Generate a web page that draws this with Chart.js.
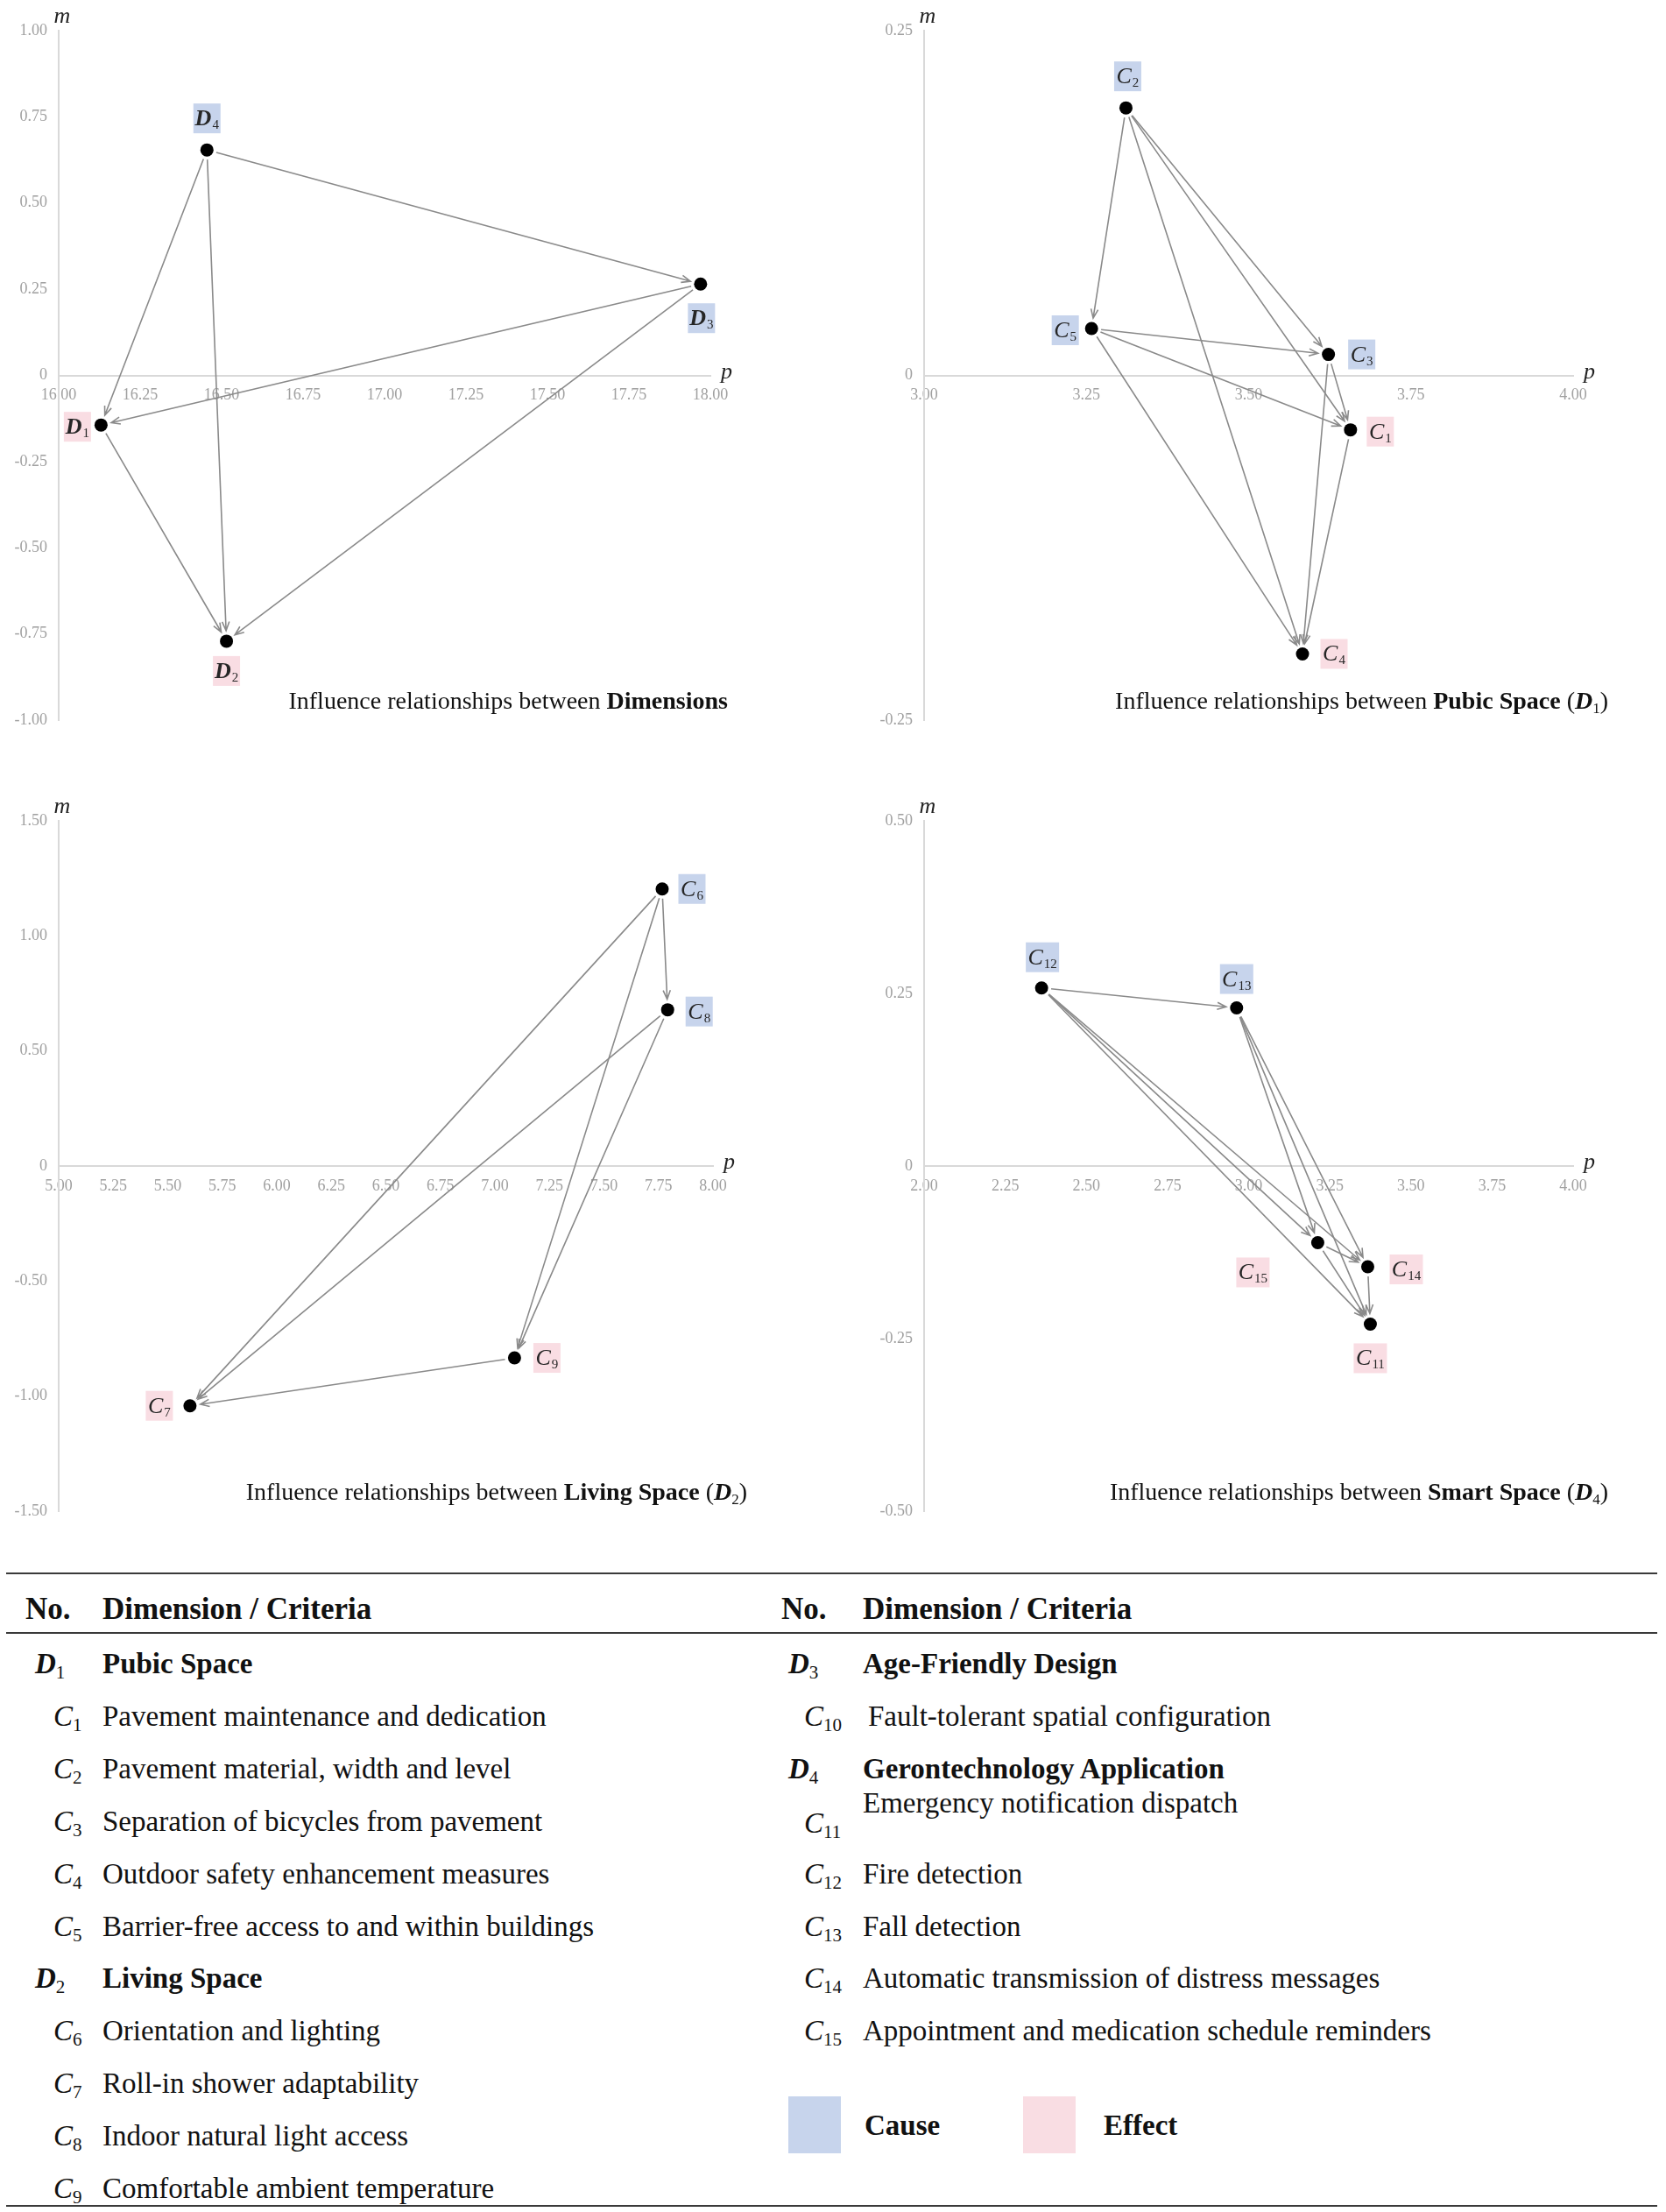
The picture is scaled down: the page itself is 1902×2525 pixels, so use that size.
<!DOCTYPE html>
<html>
<head>
<meta charset="utf-8">
<script src="https://cdn.jsdelivr.net/npm/chart.js@4.4.1/dist/chart.umd.min.js"></script>
<style>
  body { margin: 0; background: #fff; }
  #page { position: relative; width: 1902px; height: 2525px; font-family: "Liberation Serif", "Times New Roman", serif; color: #111; overflow: hidden; }
  canvas { position: absolute; }
  .rule { position: absolute; left: 7px; width: 1885px; height: 2px; background: #3a3a3a; }
  .cell { position: absolute; height: 40px; line-height: 40px; font-size: 33px; white-space: nowrap; }
  .hd { font-weight: bold; font-size: 35px; }
  .cell sub { font-size: 21px; font-style: normal; font-weight: normal; vertical-align: -6px; line-height: 0; }
  .swatch { position: absolute; width: 60px; height: 65px; }
</style>
</head>
<body>
<div id="page">
  <canvas id="chDim" width="951" height="880" style="left:0;top:0"></canvas>
  <canvas id="chD1" width="951" height="880" style="left:951px;top:0"></canvas>
  <canvas id="chD2" width="951" height="860" style="left:0;top:900px"></canvas>
  <canvas id="chD4" width="951" height="860" style="left:951px;top:900px"></canvas>

  <div class="rule" style="top:1795px"></div>
  <div class="rule" style="top:1863px"></div>
  <div class="rule" style="top:2517px"></div>
  <div class="cell hd" style="left:29px;top:1817px">No.</div>
  <div class="cell hd" style="left:117px;top:1817px">Dimension / Criteria</div>
  <div class="cell hd" style="left:892px;top:1817px">No.</div>
  <div class="cell hd" style="left:985px;top:1817px">Dimension / Criteria</div>
  <div id="rows"></div>

  <div class="swatch" style="left:900px;top:2393px;background:#c7d4ec"></div>
  <div class="cell" style="left:987px;top:2406px;font-weight:bold">Cause</div>
  <div class="swatch" style="left:1168px;top:2393px;background:#f9dde3"></div>
  <div class="cell" style="left:1260px;top:2406px;font-weight:bold">Effect</div>
</div>

<script>
"use strict";

// Dimensions
const dimCodes = ['D1', 'D2', 'D3', 'D4'];
const dimP = [16.13, 16.515, 17.97, 16.455];
const dimM = [-0.144, -0.771, 0.265, 0.654];
const dimRoles = ['effect', 'effect', 'cause', 'cause'];
const dimLinks = [['D4', 'D3'], ['D4', 'D1'], ['D4', 'D2'], ['D3', 'D1'], ['D3', 'D2'], ['D1', 'D2']];
const dimXTicks = [16, 16.25, 16.5, 16.75, 17, 17.25, 17.5, 17.75, 18];
const dimYTicks = [-1, -0.75, -0.5, -0.25, 0, 0.25, 0.5, 0.75, 1];

// Pubic Space (D1)
const d1Codes = ['C1', 'C2', 'C3', 'C4', 'C5'];
const d1P = [3.657, 3.311, 3.623, 3.583, 3.258];
const d1M = [-0.0395, 0.194, 0.0152, -0.202, 0.034];
const d1Roles = ['effect', 'cause', 'cause', 'effect', 'cause'];
const d1Links = [['C2', 'C5'], ['C2', 'C3'], ['C2', 'C1'], ['C2', 'C4'], ['C5', 'C3'], ['C5', 'C1'], ['C5', 'C4'], ['C3', 'C1'], ['C3', 'C4'], ['C1', 'C4']];
const d1XTicks = [3, 3.25, 3.5, 3.75, 4];
const d1YTicks = [-0.25, 0, 0.25];

// Living Space (D2)
const d2Codes = ['C6', 'C7', 'C8', 'C9'];
const d2P = [7.767, 5.602, 7.792, 7.09];
const d2M = [1.204, -1.042, 0.679, -0.834];
const d2Roles = ['cause', 'effect', 'cause', 'effect'];
const d2Links = [['C6', 'C8'], ['C6', 'C7'], ['C6', 'C9'], ['C8', 'C7'], ['C8', 'C9'], ['C9', 'C7']];
const d2XTicks = [5, 5.25, 5.5, 5.75, 6, 6.25, 6.5, 6.75, 7, 7.25, 7.5, 7.75, 8];
const d2YTicks = [-1.5, -1, -0.5, 0, 0.5, 1, 1.5];

// Smart Space (D4)
const d4Codes = ['C11', 'C12', 'C13', 'C14', 'C15'];
const d4P = [3.375, 2.362, 2.963, 3.367, 3.213];
const d4M = [-0.229, 0.258, 0.229, -0.146, -0.111];
const d4Roles = ['effect', 'cause', 'cause', 'effect', 'effect'];
const d4Links = [['C12', 'C13'], ['C12', 'C15'], ['C12', 'C14'], ['C12', 'C11'], ['C13', 'C15'], ['C13', 'C14'], ['C13', 'C11'], ['C15', 'C14'], ['C15', 'C11'], ['C14', 'C11']];
const d4XTicks = [2, 2.25, 2.5, 2.75, 3, 3.25, 3.5, 3.75, 4];
const d4YTicks = [-0.5, -0.25, 0, 0.25, 0.5];

// table
const leftRows = [
    ['D1', 'Pubic Space'],
    ['C1', 'Pavement maintenance and dedication'],
    ['C2', 'Pavement material, width and level'],
    ['C3', 'Separation of bicycles from pavement'],
    ['C4', 'Outdoor safety enhancement measures'],
    ['C5', 'Barrier-free access to and within buildings'],
    ['D2', 'Living Space'],
    ['C6', 'Orientation and lighting'],
    ['C7', 'Roll-in shower adaptability'],
    ['C8', 'Indoor natural light access'],
    ['C9', 'Comfortable ambient temperature']
];
const rightRows = [
    ['D3', 'Age-Friendly Design'],
    ['C10', 'Fault-tolerant spatial configuration'],
    ['D4', 'Gerontechnology Application'],
    ['C11', 'Emergency notification dispatch'],
    ['C12', 'Fire detection'],
    ['C13', 'Fall detection'],
    ['C14', 'Automatic transmission of distress messages'],
    ['C15', 'Appointment and medication schedule reminders']
];

const SERIF = '"Liberation Serif", "Times New Roman", serif';
const CAUSE_BG = '#c7d4ec';
const EFFECT_BG = '#f9dde3';

function arrow(ctx, x1, y1, x2, y2){
    const dx = x2 - x1, dy = y2 - y1, L = Math.hypot(dx, dy);
    const ux = dx / L, uy = dy / L;
    const sx = x1 + ux * 11, sy = y1 + uy * 11;
    const ex = x2 - ux * 12, ey = y2 - uy * 12;
    const a = Math.atan2(uy, ux), h = 11, w = 0.38;
    ctx.beginPath();
    ctx.moveTo(sx, sy);
    ctx.lineTo(ex, ey);
    ctx.moveTo(ex - h * Math.cos(a - w), ey - h * Math.sin(a - w));
    ctx.lineTo(ex, ey);
    ctx.lineTo(ex - h * Math.cos(a + w), ey - h * Math.sin(a + w));
    ctx.stroke();
}

function tag(ctx, code, cx, cy, role){
    const letter = code[0], sub = code.slice(1);
    const f1 = (letter === 'D' ? 'italic bold ' : 'italic ') + '26px ' + SERIF;
    const f2 = '15px ' + SERIF;
    ctx.font = f1; const w1 = ctx.measureText(letter).width;
    ctx.font = f2; const w2 = ctx.measureText(sub).width;
    const bw = sub.length > 1 ? 38 : 31, bh = 34;
    ctx.fillStyle = role === 'cause' ? CAUSE_BG : EFFECT_BG;
    ctx.fillRect(cx - bw / 2, cy - bh / 2, bw, bh);
    const tx = cx - (w1 + w2 + 1) / 2;
    ctx.fillStyle = '#262626';
    ctx.textAlign = 'left';
    ctx.textBaseline = 'alphabetic';
    ctx.font = f1; ctx.fillText(letter, tx, cy + 8);
    ctx.font = f2; ctx.fillText(sub, tx + w1 + 1, cy + 12);
}

function segFont(kind, size){
    if(kind === 'b') return 'bold ' + size + 'px ' + SERIF;
    if(kind === 'bi') return 'italic bold ' + size + 'px ' + SERIF;
    if(kind === 'sub') return Math.round(size * 0.62) + 'px ' + SERIF;
    return size + 'px ' + SERIF;
}

function makeChart(id, c){
    const byCode = {};
    c.codes.forEach((k, i) => { byCode[k] = i; });

    const relPlugin = {
        id: 'rel_' + id,
        beforeDatasetsDraw(chart){
            const ctx = chart.ctx, xs = chart.scales.x, ys = chart.scales.y;
            ctx.save();
            ctx.strokeStyle = '#8a8a8a';
            ctx.lineWidth = 1.6;
            c.links.forEach(([a, b]) => {
                const i = byCode[a], j = byCode[b];
                arrow(ctx, xs.getPixelForValue(c.p[i]), ys.getPixelForValue(c.m[i]),
                           xs.getPixelForValue(c.p[j]), ys.getPixelForValue(c.m[j]));
            });
            ctx.restore();
        },
        afterDatasetsDraw(chart){
            const ctx = chart.ctx, xs = chart.scales.x, ys = chart.scales.y;
            ctx.save();
            c.codes.forEach((k, i) => {
                const off = c.tagAt[k];
                tag(ctx, k, xs.getPixelForValue(c.p[i]) + off[0], ys.getPixelForValue(c.m[i]) + off[1], c.roles[i]);
            });
            ctx.restore();
        },
        afterDraw(chart){
            const ctx = chart.ctx, area = chart.chartArea;
            const y0 = chart.scales.y.getPixelForValue(0);
            ctx.save();
            ctx.fillStyle = '#222';
            ctx.textBaseline = 'alphabetic';
            ctx.font = 'italic 26px ' + SERIF;
            ctx.textAlign = 'center';
            ctx.fillText('m', area.left + 4, area.top - 9);
            ctx.textAlign = 'left';
            ctx.fillText('p', area.right + 12, y0 + 3);

            // title, right aligned
            const size = 28;
            let total = 0;
            c.title.forEach(([t, k]) => { ctx.font = segFont(k, size); total += ctx.measureText(t).width; });
            let x = area.right + c.titleDx - total;
            const base = area.bottom - 13;
            ctx.fillStyle = '#111';
            c.title.forEach(([t, k]) => {
                ctx.font = segFont(k, size);
                ctx.fillText(t, x, k === 'sub' ? base + 5 : base);
                x += ctx.measureText(t).width;
            });
            ctx.restore();
        }
    };

    const tickFont = {family: SERIF, size: 18};
    const axisBase = {
        type: 'linear',
        grid: {display: false, drawTicks: false},
        border: {display: true, color: '#d9d9d9', width: 2}
    };

    return new Chart(document.getElementById(id), {
        type: 'scatter',
        data: {
            datasets: [{
                data: c.codes.map((k, i) => ({x: c.p[i], y: c.m[i]})),
                pointRadius: 7.5,
                pointBackgroundColor: '#000',
                pointBorderWidth: 0
            }]
        },
        options: {
            responsive: false,
            animation: false,
            devicePixelRatio: 1,
            layout: {padding: {left: 0, right: c.pad[1], top: c.pad[0], bottom: c.pad[2]}},
            plugins: {legend: {display: false}, tooltip: {enabled: false}},
            scales: {
                x: Object.assign({}, axisBase, {
                    position: {y: 0},
                    min: c.xt[0], max: c.xt[c.xt.length - 1],
                    afterBuildTicks: s => { s.ticks = c.xt.map(v => ({value: v})); },
                    ticks: {font: tickFont, color: '#a0a0a0', padding: 12, autoSkip: false, maxRotation: 0,
                            callback: v => Number(v).toFixed(2)}
                }),
                y: Object.assign({}, axisBase, {
                    position: 'left',
                    min: c.yt[0], max: c.yt[c.yt.length - 1],
                    afterBuildTicks: s => { s.ticks = c.yt.map(v => ({value: v})); },
                    afterFit: s => { s.width = c.yw; },
                    ticks: {font: tickFont, color: '#a0a0a0', padding: 13,
                            callback: v => (v === 0 ? '0' : Number(v).toFixed(2))}
                })
            }
        },
        plugins: [relPlugin]
    });
}

makeChart('chDim', {
    codes: dimCodes, p: dimP, m: dimM, roles: dimRoles, links: dimLinks, xt: dimXTicks, yt: dimYTicks,
    yw: 67, pad: [35, 140, 58], titleDx: 20,
    tagAt: {D1: [-27, 2], D2: [0, 34], D3: [1, 39], D4: [0, -36]},
    title: [['Influence relationships between ', 'r'], ['Dimensions', 'b']]
});
makeChart('chD1', {
    codes: d1Codes, p: d1P, m: d1M, roles: d1Roles, links: d1Links, xt: d1XTicks, yt: d1YTicks,
    yw: 104, pad: [35, 106, 58], titleDx: 40,
    tagAt: {C1: [34, 2], C2: [2, -36], C3: [38, 0], C4: [36, 0], C5: [-30, 2]},
    title: [['Influence relationships between ', 'r'], ['Pubic Space', 'b'], [' (', 'r'], ['D', 'bi'], ['1', 'sub'], [')', 'r']]
});
makeChart('chD2', {
    codes: d2Codes, p: d2P, m: d2M, roles: d2Roles, links: d2Links, xt: d2XTicks, yt: d2YTicks,
    yw: 67, pad: [37, 137, 35], titleDx: 39,
    tagAt: {C6: [34, 0], C7: [-35, 0], C8: [36, 2], C9: [37, 0]},
    title: [['Influence relationships between ', 'r'], ['Living Space', 'b'], [' (', 'r'], ['D', 'bi'], ['2', 'sub'], [')', 'r']]
});
makeChart('chD4', {
    codes: d4Codes, p: d4P, m: d4M, roles: d4Roles, links: d4Links, xt: d4XTicks, yt: d4YTicks,
    yw: 104, pad: [37, 106, 35], titleDx: 40,
    tagAt: {C11: [0, 39], C12: [1, -35], C13: [0, -33], C14: [44, 3], C15: [-74, 34]},
    title: [['Influence relationships between ', 'r'], ['Smart Space', 'b'], [' (', 'r'], ['D', 'bi'], ['4', 'sub'], [')', 'r']]
});

// table rows
(function(){
    const host = document.getElementById('rows');
    const pitch = 59.9, first = 1899;
    function codeHtml(code){
        const l = code[0], n = code.slice(1);
        return (l === 'D' ? '<b><i>D</i></b>' : '<i>C</i>') + '<sub>' + n + '</sub>';
    }
    function put(left, top, html, bold){
        const d = document.createElement('div');
        d.className = 'cell';
        d.style.left = left + 'px';
        d.style.top = Math.round(top - 20) + 'px';
        if(bold) d.style.fontWeight = 'bold';
        d.innerHTML = html;
        host.appendChild(d);
    }
    leftRows.forEach(([code, text], i) => {
        const y = first + i * pitch;
        const isD = code[0] === 'D';
        put(isD ? 40 : 61, y, codeHtml(code));
        put(117, y, text, isD);
    });
    rightRows.forEach(([code, text], i) => {
        const y = first + i * pitch;
        const isD = code[0] === 'D';
        const split = code === 'C11';
        put(isD ? 900 : 918, split ? y + 2 : y, codeHtml(code));
        put(code === 'C10' ? 991 : 985, split ? y - 21 : y, text, isD);
    });
})();
</script>
</body>
</html>
